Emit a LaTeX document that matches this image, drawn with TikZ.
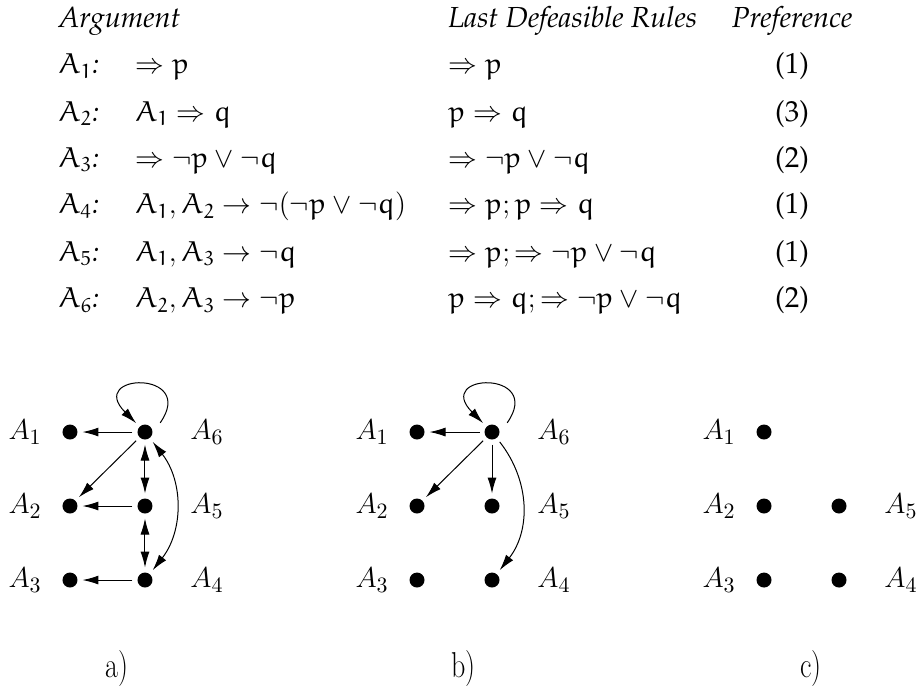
\documentclass[tikz,border=0pt]{standalone}
\usepackage[T1,TU]{fontenc}
\usetikzlibrary{positioning,arrows.meta}

\IfFileExists{t1ppl.fd}
  {\newcommand{\pal}{\fontencoding{T1}\fontfamily{ppl}\selectfont}}
  {\newcommand{\pal}{\relax}}
\IfFileExists{ueur.fd}
  {\DeclareMathAlphabet{\eu}{U}{eur}{m}{n}}
  {\newcommand{\eu}[1]{\mathrm{#1}}}
\newcommand{\ai}[1]{\eu{A}_{\eu{#1}}}
\newcommand{\vp}{\eu{p}}
\newcommand{\vq}{\eu{q}}

\tikzset{
    tabtext/.style={anchor=base west, inner sep=0pt, font=\pal\fontsize{14.5}{17}\selectfont},
    pref/.style={tabtext, anchor=base},
    dot/.style={circle, fill, minimum size=7.5pt, inner sep=0pt, outer sep=2.5pt},
    lbl/.style={inner sep=0pt, font=\fontsize{15.4}{18}\selectfont},
    capt/.style={anchor=base, inner sep=0pt, font=\fontsize{18}{20}\selectfont},
    arrow/.style={-{Latex[length=8pt,width=4.5pt]}},
    twoway/.style={{Latex[length=8pt,width=4.5pt]}-{Latex[length=8pt,width=4.5pt]}}
}

\begin{document}
\begin{tikzpicture}[line width=0.5pt]
\useasboundingbox (0,0) rectangle (16.132,12.108);

% table of arguments
\node[tabtext] (hdarg) at (1.02,11.63) {\itshape Argument};
\node[tabtext] (hdlast) at (7.87,11.63) {\itshape Last Defeasible Rules};
\node[pref] (hdpref) at (13.92,11.63) {\itshape Preference};

\node[tabtext] (name1) at (1.02,10.81) {$\ai{1}$\textit{:}};
\node[tabtext] (arg1) at (2.37,10.81) {$\Rightarrow \vp$};
\node[tabtext] (last1) at (7.87,10.81) {$\Rightarrow \vp$};
\node[pref] (pref1) at (13.92,10.81) {(1)};

\node[tabtext] (name2) at (1.02,9.98) {$\ai{2}$\textit{:}};
\node[tabtext] (arg2) at (2.37,9.98) {$\ai{1} \Rightarrow \vq$};
\node[tabtext] (last2) at (7.87,9.98) {$\vp \Rightarrow \vq$};
\node[pref] (pref2) at (13.92,9.98) {(3)};

\node[tabtext] (name3) at (1.02,9.17) {$\ai{3}$\textit{:}};
\node[tabtext] (arg3) at (2.37,9.17) {$\Rightarrow \neg \vp \vee \neg \vq$};
\node[tabtext] (last3) at (7.87,9.17) {$\Rightarrow \neg \vp \vee \neg \vq$};
\node[pref] (pref3) at (13.92,9.17) {(2)};

\node[tabtext] (name4) at (1.02,8.35) {$\ai{4}$\textit{:}};
\node[tabtext] (arg4) at (2.37,8.35) {$\ai{1}, \ai{2} \rightarrow \neg(\neg \vp \vee \neg \vq)$};
\node[tabtext] (last4) at (7.87,8.35) {$\Rightarrow \vp; \vp \Rightarrow \vq$};
\node[pref] (pref4) at (13.92,8.35) {(1)};

\node[tabtext] (name5) at (1.02,7.52) {$\ai{5}$\textit{:}};
\node[tabtext] (arg5) at (2.37,7.52) {$\ai{1}, \ai{3} \rightarrow \neg \vq$};
\node[tabtext] (last5) at (7.87,7.52) {$\Rightarrow \vp; \Rightarrow \neg \vp \vee \neg \vq$};
\node[pref] (pref5) at (13.92,7.52) {(1)};

\node[tabtext] (name6) at (1.02,6.70) {$\ai{6}$\textit{:}};
\node[tabtext] (arg6) at (2.37,6.70) {$\ai{2}, \ai{3} \rightarrow \neg \vp$};
\node[tabtext] (last6) at (7.87,6.70) {$\vp \Rightarrow \vq; \Rightarrow \neg \vp \vee \neg \vq$};
\node[pref] (pref6) at (13.92,6.70) {(2)};

% graph a)
\node[dot] (a1) at (1.230,4.516) {};
\node[dot] (a6) at (2.548,4.516) {};
\node[dot] (a2) at (1.230,3.216) {};
\node[dot] (a5) at (2.548,3.216) {};
\node[dot] (a3) at (1.230,1.915) {};
\node[dot] (a4) at (2.548,1.915) {};
\node[lbl, left=0.27cm of a1] {$A_1$};
\node[lbl, left=0.27cm of a2] {$A_2$};
\node[lbl, left=0.27cm of a3] {$A_3$};
\node[lbl, right=0.57cm of a6] {$A_6$};
\node[lbl, right=0.57cm of a5] {$A_5$};
\node[lbl, right=0.57cm of a4] {$A_4$};
\draw[arrow] (a6) -- (a1);
\draw[arrow] (a6) -- (a2);
\draw[twoway] (a6) -- (a5);
\draw[arrow] (a5) -- (a2);
\draw[twoway] (a5) -- (a4);
\draw[arrow] (a4) -- (a3);
\draw[twoway] (a6) to[bend left=38] (a4);
\draw[arrow, shorten <=3pt] (a6.20) to[out=55,in=135,distance=1.25cm] (a6);
\node[capt] (capa) at (2.06,0.21) {\scalebox{0.78}[1]{a)}};

% graph b)
\node[dot] (b1) at (7.328,4.516) {};
\node[dot] (b6) at (8.646,4.516) {};
\node[dot] (b2) at (7.328,3.216) {};
\node[dot] (b5) at (8.646,3.216) {};
\node[dot] (b3) at (7.328,1.915) {};
\node[dot] (b4) at (8.646,1.915) {};
\node[lbl, left=0.27cm of b1] {$A_1$};
\node[lbl, left=0.27cm of b2] {$A_2$};
\node[lbl, left=0.27cm of b3] {$A_3$};
\node[lbl, right=0.57cm of b6] {$A_6$};
\node[lbl, right=0.57cm of b5] {$A_5$};
\node[lbl, right=0.57cm of b4] {$A_4$};
\draw[arrow] (b6) -- (b1);
\draw[arrow] (b6) -- (b2);
\draw[arrow] (b6) -- (b5);
\draw[arrow] (b6) to[bend left=38] (b4);
\draw[arrow, shorten <=3pt] (b6.20) to[out=55,in=135,distance=1.25cm] (b6);
\node[capt] (capb) at (8.15,0.21) {\scalebox{0.78}[1]{b)}};

% graph c)
\node[dot] (c1) at (13.426,4.516) {};
\node[dot] (c2) at (13.426,3.216) {};
\node[dot] (c5) at (14.744,3.216) {};
\node[dot] (c3) at (13.426,1.915) {};
\node[dot] (c4) at (14.744,1.915) {};
\node[lbl, left=0.27cm of c1] {$A_1$};
\node[lbl, left=0.27cm of c2] {$A_2$};
\node[lbl, left=0.27cm of c3] {$A_3$};
\node[lbl, right=0.57cm of c5] {$A_5$};
\node[lbl, right=0.57cm of c4] {$A_4$};
\node[capt] (capc) at (14.25,0.21) {\scalebox{0.78}[1]{c)}};
\end{tikzpicture}
\end{document}
